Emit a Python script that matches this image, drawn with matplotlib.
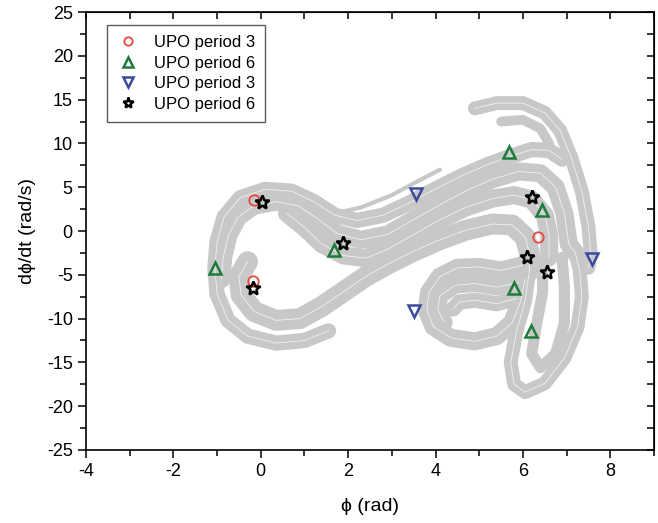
import matplotlib
matplotlib.use("Agg")
import matplotlib.pyplot as plt

# UPO markers (phi in rad, dphi/dt in rad/s)
upo3_circle_phi = [-0.16, -0.18, 6.35]
upo3_circle_dphi = [3.5, -5.7, -0.7]

upo6_tri_phi = [-1.05, 1.67, 5.69, 6.44, 5.80, 6.19]
upo6_tri_dphi = [-4.2, -2.2, 9.0, 2.4, -6.5, -11.4]

upo3_dtri_phi = [3.56, 3.51, 7.57]
upo3_dtri_dphi = [4.2, -9.1, -3.2]

upo6_star_phi = [0.02, -0.18, 1.88, 6.20, 6.09, 6.55]
upo6_star_dphi = [3.3, -6.5, -1.4, 3.9, -3.0, -4.7]

# attractor strands, traced along their middle (phi, dphi/dt)
hump_outer = [(1.55, -11.4), (1.0, -12.5), (0.35, -12.8), (-0.3, -12.0), (-0.75, -10.2),
              (-1.0, -7.2), (-1.05, -4.2), (-1.0, -1.2), (-0.84, 1.6), (-0.47, 3.8),
              (0.1, 4.75), (0.7, 4.55), (1.2, 3.4), (1.7, 1.8), (2.2, 1.2), (2.8, 1.8),
              (3.4, 3.2), (4.0, 4.8), (4.6, 6.3), (5.2, 7.6), (5.7, 8.5), (6.2, 9.3),
              (6.6, 9.2), (6.9, 8.2)]
hump_inner = [(-0.9, -5.5), (-0.86, -3.0), (-0.74, -0.5), (-0.52, 1.6), (-0.15, 2.9),
              (0.35, 3.35), (0.85, 2.9), (1.3, 1.4), (1.75, -0.3), (2.3, -1.0),
              (2.9, -0.4), (3.5, 1.3), (4.1, 3.0), (4.7, 4.6), (5.3, 5.9), (5.9, 6.8),
              (6.4, 6.6), (6.75, 5.0), (6.95, 2.0), (7.05, -1.5), (7.2, -2.5)]
mid_band = [(0.6, 2.0), (1.0, 0.4), (1.4, -1.5), (1.9, -2.8), (2.4, -3.1), (2.9, -2.1),
            (3.5, -0.4), (4.1, 1.3), (4.7, 2.7), (5.3, 3.7), (5.8, 4.1), (6.2, 3.6),
            (6.5, 1.8), (6.6, -0.5), (6.6, -3.0)]
lobe_inner = [(-0.3, -3.5), (-0.5, -5.2), (-0.45, -7.3), (-0.15, -9.2), (0.35, -10.2),
              (0.9, -10.0), (1.4, -8.6), (1.9, -6.9), (2.4, -5.2), (2.9, -3.8),
              (3.5, -2.3), (4.1, -1.0), (4.7, 0.1), (5.3, 0.8), (5.75, 0.7),
              (6.05, -0.7), (6.15, -2.5), (6.15, -4.5)]
top_thin = [(1.6, 1.9), (2.3, 2.7), (3.0, 4.1), (3.6, 5.7), (4.1, 7.0)]
hook_outer = [(4.9, 14.0), (5.4, 14.6), (6.0, 14.6), (6.5, 13.5), (6.85, 11.5),
              (7.1, 8.5), (7.35, 4.5), (7.5, 0.5), (7.55, -2.5), (7.5, -4.2)]
hook_inner = [(5.5, 12.5), (6.0, 12.7), (6.4, 11.7), (6.6, 10.0), (6.6, 9.0)]
tongue_1 = [(6.0, -3.9), (5.5, -4.5), (5.0, -4.1), (4.5, -4.2), (4.1, -5.2), (3.85, -7.0),
            (3.8, -9.0), (3.95, -10.9), (4.35, -12.2), (4.9, -12.6), (5.4, -12.0),
            (5.75, -10.5), (5.95, -8.0), (6.05, -5.5)]
tongue_2 = [(5.9, -5.9), (5.4, -6.4), (4.9, -6.0), (4.45, -6.2), (4.1, -7.4), (4.05, -9.0),
            (4.2, -10.4)]
tongue_3 = [(5.85, -7.7), (5.4, -8.3), (4.9, -7.9), (4.55, -8.1), (4.4, -8.9)]
lobe_r_outer = [(6.15, -4.5), (6.05, -8.0), (5.85, -11.5), (5.72, -15.0), (5.8, -17.5),
                (6.05, -18.4), (6.5, -17.4), (6.95, -14.5), (7.25, -11.0), (7.35, -7.5),
                (7.3, -4.5), (7.2, -2.5)]
lobe_r_inner = [(6.45, -3.5), (6.45, -7.0), (6.3, -11.0), (6.2, -14.0), (6.4, -15.6),
                (6.75, -14.0), (6.95, -10.5), (6.95, -6.5), (6.9, -3.0)]

strands = [(hump_outer, 11), (hump_inner, 13), (mid_band, 13), (lobe_inner, 15),
           (top_thin, 3), (hook_outer, 10), (hook_inner, 7), (tongue_1, 13),
           (tongue_2, 12), (tongue_3, 11), (lobe_r_outer, 10), (lobe_r_inner, 8)]

plt.rcParams['font.family'] = ['Liberation Sans', 'DejaVu Sans']
plt.rcParams['axes.unicode_minus'] = False

fig = plt.figure(figsize=(6.58, 5.23), dpi=100)
ax = fig.add_axes([0.1307, 0.1396, 0.8632, 0.8374])

gray = '#c8c8c8'
for pts, w in strands:
    xs = [p[0] for p in pts]
    ys = [p[1] for p in pts]
    ax.plot(xs, ys, color=gray, lw=w, solid_capstyle='round', solid_joinstyle='round', zorder=1)
# fine white striations inside the wide bands
for pts, w in strands:
    if w >= 10:
        xs = [p[0] for p in pts]
        ys = [p[1] for p in pts]
        ax.plot(xs, ys, color='white', lw=0.6, alpha=0.75, zorder=1.5)

ax.plot(upo3_circle_phi, upo3_circle_dphi, 'o', ls='none', mfc='none', mec='#e5483d',
        ms=7.5, mew=1.3, label='UPO period 3', zorder=3)
ax.plot(upo6_tri_phi, upo6_tri_dphi, '^', ls='none', mfc='none', mec='#1d7b3c',
        ms=9, mew=1.8, label='UPO period 6', zorder=3)
ax.plot(upo3_dtri_phi, upo3_dtri_dphi, 'v', ls='none', mfc='none', mec='#3a4a9e',
        ms=9, mew=1.8, label='UPO period 3', zorder=3)
ax.plot(upo6_star_phi, upo6_star_dphi, '*', ls='none', mfc='none', mec='black',
        ms=10, mew=1.8, label='UPO period 6', zorder=4)

ax.set_xlim(-4, 9)
ax.set_ylim(-25, 25)
ax.set_xticks([-4, -2, 0, 2, 4, 6, 8])
ax.set_xticks(range(-4, 10), minor=True)
ax.set_yticks(range(-25, 26, 5))
ax.set_yticks([v / 2 for v in range(-50, 51, 5)], minor=True)

ax.tick_params(which='both', direction='out', labelsize=13, width=1.1, top=False, right=False)
ax.tick_params(which='major', length=6)
ax.tick_params(which='minor', length=4)
# inward ticks on top and right like the original
sec_x = ax.secondary_xaxis('top')
sec_x.set_xticks([-4, -2, 0, 2, 4, 6, 8])
sec_x.set_xticks(range(-4, 10), minor=True)
sec_x.tick_params(which='both', direction='in', labeltop=False, width=1.1, length=5)
sec_y = ax.secondary_yaxis('right')
sec_y.set_yticks(range(-25, 26, 5))
sec_y.set_yticks([v / 2 for v in range(-50, 51, 5)], minor=True)
sec_y.tick_params(which='both', direction='in', labelright=False, width=1.1, length=5)

for sp in ax.spines.values():
    sp.set_linewidth(1.2)

ax.set_xlabel('ϕ (rad)', fontsize=14, labelpad=13)
ax.set_ylabel('dϕ/dt (rad/s)', fontsize=14, labelpad=8)

leg = ax.legend(loc='upper left', bbox_to_anchor=(0.037, 0.97), borderaxespad=0,
                fontsize=12, frameon=True, fancybox=False, edgecolor='#333333',
                labelspacing=0.33, handletextpad=0.9, borderpad=0.6, handlelength=1.3,
                markerscale=0.8)
leg.get_frame().set_linewidth(1.0)

fig.savefig('out.png', dpi=100)
